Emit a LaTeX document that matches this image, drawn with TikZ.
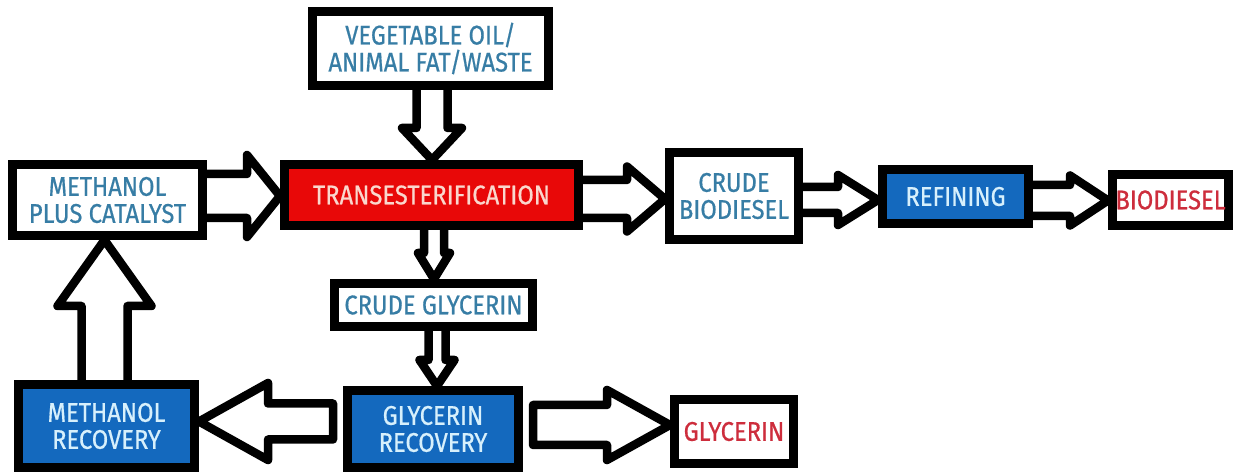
\documentclass[tikz,border=0pt]{standalone}
\usepackage{fontspec}
\setmainfont{Fira Sans}[FakeStretch=0.88,FakeBold=0.6]
\usetikzlibrary{calc,backgrounds}
\definecolor{boxblue}{RGB}{20,105,190}
\definecolor{boxred}{RGB}{232,8,8}
\definecolor{txtblue}{RGB}{55,125,165}
\definecolor{txtred}{RGB}{205,45,60}
\definecolor{txtlight}{RGB}{215,240,252}
\definecolor{txtpink}{RGB}{250,215,205}
\tikzset{
  box/.style={draw=black, line width=9pt, inner sep=0pt, align=center, font=\fontsize{27}{27}\selectfont},
  whitebox/.style={box, fill=white, text=txtblue},
  bluebox/.style={box, fill=boxblue, text=txtlight},
  redbox/.style={box, fill=boxred, text=txtpink},
  endbox/.style={box, fill=white, text=txtred},
  barrow/.style={draw=black, fill=white, line width=8.5pt, line join=round},
}
% block arrows: #1 start point, #2 start offset, #3 target node, #4 centre line, #5 shaft half width, #6 head half width, #7 head length
\newcommand\blkR[7]{\draw[barrow] let \p1=(#1), \p2=(#3.west) in
  ({\x1+(#2)},{#4+#5}) -- ({\x2-#7},{#4+#5}) -- ({\x2-#7},{#4+#6}) -- (\x2,{#4}) --
  ({\x2-#7},{#4-#6}) -- ({\x2-#7},{#4-#5}) -- ({\x1+(#2)},{#4-#5}) -- cycle;}
\newcommand\blkL[7]{\draw[barrow] let \p1=(#1), \p2=(#3.east) in
  ({\x1+(#2)},{#4+#5}) -- ({\x2+#7},{#4+#5}) -- ({\x2+#7},{#4+#6}) -- (\x2,{#4}) --
  ({\x2+#7},{#4-#6}) -- ({\x2+#7},{#4-#5}) -- ({\x1+(#2)},{#4-#5}) -- cycle;}
\newcommand\blkD[7]{\draw[barrow] let \p1=(#1), \p2=(#3.north) in
  ({#4-#5},{\y1+(#2)}) -- ({#4-#5},{\y2+#7}) -- ({#4-#6},{\y2+#7}) -- ({#4},\y2) --
  ({#4+#6},{\y2+#7}) -- ({#4+#5},{\y2+#7}) -- ({#4+#5},{\y1+(#2)}) -- cycle;}
\newcommand\blkU[7]{\draw[barrow] let \p1=(#1), \p2=(#3.south) in
  ({#4-#5},{\y1+(#2)}) -- ({#4-#5},{\y2-#7}) -- ({#4-#6},{\y2-#7}) -- ({#4},\y2) --
  ({#4+#6},{\y2-#7}) -- ({#4+#5},{\y2-#7}) -- ({#4+#5},{\y1+(#2)}) -- cycle;}
\begin{document}
\begin{tikzpicture}[x=1pt,y=1pt]
\useasboundingbox (0,0) rectangle (1235,473);
% boxes
\node[whitebox, minimum width=236, minimum height=74] (veg) at (430.5,424.5) {VEGETABLE OIL/\\ANIMAL FAT/WASTE};
\node[whitebox, minimum width=190, minimum height=71] (mpc) at (107.5,273) {METHANOL\\PLUS CATALYST};
\node[redbox, minimum width=294, minimum height=61] (trans) at (431.5,278) {TRANSESTERIFICATION};
\node[whitebox, minimum width=129, minimum height=87] (crude) at (734,277) {CRUDE\\BIODIESEL};
\node[bluebox, minimum width=146, minimum height=54] (ref) at (955.5,276.5) {REFINING};
\node[endbox, minimum width=116, minimum height=51] (bio) at (1170.5,273) {BIODIESEL};
\node[whitebox, minimum width=198, minimum height=43] (cg) at (433.5,168) {CRUDE GLYCERIN};
\node[bluebox, minimum width=171, minimum height=77] (gr) at (433,44) {GLYCERIN\\RECOVERY};
\node[bluebox, minimum width=176, minimum height=83] (mr) at (106.5,47) {METHANOL\\RECOVERY};
\node[endbox, minimum width=119, minimum height=64] (gly) at (734,41.5) {GLYCERIN};
% block arrows behind the boxes
\begin{scope}[on background layer]
\fill[white] (0,0) rectangle (1235,473);
\blkD{veg.center}{0}{trans}{432}{15.5}{30}{32}
\blkR{mpc.center}{0}{trans}{277}{22}{41}{33}
\blkR{trans.center}{0}{crude}{274}{19}{32.5}{38}
\blkR{crude.center}{0}{ref}{273}{13}{25}{40}
\blkR{ref.center}{0}{bio}{272.5}{15.5}{25}{38}
\blkD{trans.center}{0}{cg}{434}{10}{16}{26}
\blkD{cg.center}{0}{gr}{437}{8.5}{17.5}{26}
\blkL{gr.west}{-10}{mr}{51.5}{18}{38.5}{69}
\blkR{gr.east}{10}{gly}{48}{20}{35}{63}
\blkU{mr.center}{0}{mpc}{104.5}{23}{47}{66}
\end{scope}
\end{tikzpicture}
\end{document}
